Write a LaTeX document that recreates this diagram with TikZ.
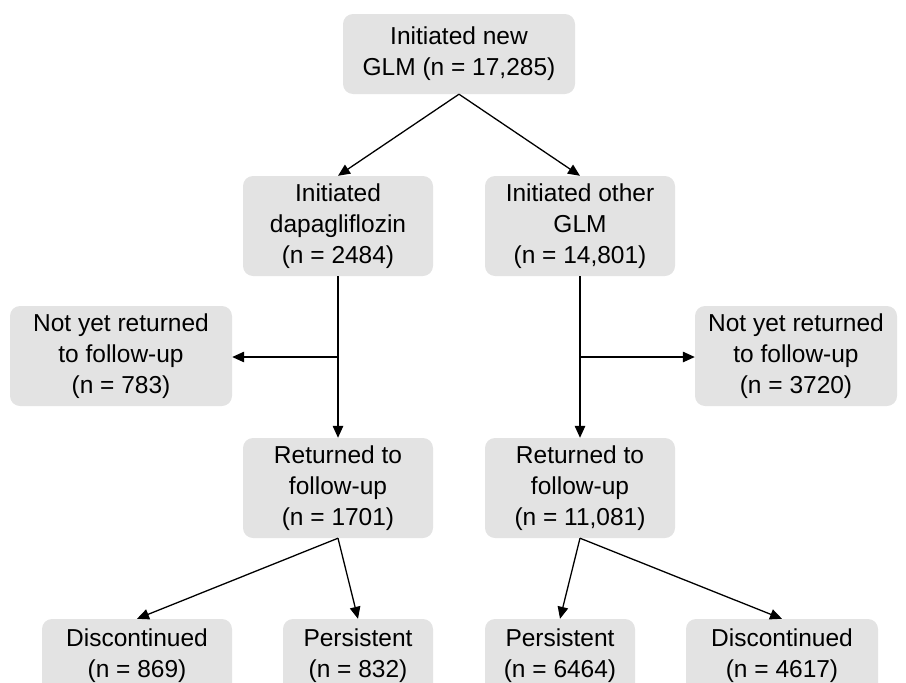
\documentclass[tikz,border=0pt]{standalone}
\usepackage{fontspec}
\setmainfont{Liberation Sans}
\usetikzlibrary{arrows.meta}
\definecolor{boxgray}{HTML}{E3E3E3}
\begin{document}
\begin{tikzpicture}[x=1pt,y=-1pt,
  box/.style={fill=boxgray, draw=none, rounded corners=10pt, inner sep=0pt,
    align=center, minimum height=100pt, font=\fontsize{24.5}{31}\selectfont},
  conn/.style={line width=1.3pt, -{Triangle[length=12pt,width=10.5pt]}}]
\useasboundingbox (0,0) rectangle (906,683);
\node[box, minimum width=232pt, minimum height=80pt] (top) at (459,54) {Initiated new\\GLM (n = 17,285)};
\node[box, minimum width=190pt] (dapa) at (338,226) {Initiated\\dapagliflozin\\(n = 2484)};
\node[box, minimum width=190pt] (other) at (580,226) {Initiated other\\GLM\\(n = 14,801)};
\node[box, minimum width=222pt] (nyrl) at (121,356) {Not yet returned\\to follow-up\\(n = 783)};
\node[box, minimum width=202pt] (nyrr) at (796,356) {Not yet returned\\to follow-up\\(n = 3720)};
\node[box, minimum width=190pt] (retl) at (338,488) {Returned to\\follow-up\\(n = 1701)};
\node[box, minimum width=190pt] (retr) at (580,488) {Returned to\\follow-up\\(n = 11,081)};
\node[box, minimum width=190pt] (discl) at (137,669) {Discontinued\\(n = 869)\\\mbox{}};
\node[box, minimum width=150pt] (persl) at (358,669) {Persistent\\(n = 832)\\\mbox{}};
\node[box, minimum width=150pt] (persr) at (560,669) {Persistent\\(n = 6464)\\\mbox{}};
\node[box, minimum width=192pt] (discr) at (782,669) {Discontinued\\(n = 4617)\\\mbox{}};
\coordinate (splitl) at (338,357);
\coordinate (splitr) at (580,357);
\draw[conn] (top.south) -- (dapa.north);
\draw[conn] (top.south) -- (other.north);
\draw[conn] (dapa.south) -- (retl.north);
\draw[conn] (other.south) -- (retr.north);
\draw[conn] (splitl) -- (splitl -| nyrl.east);
\draw[conn] (splitr) -- (splitr -| nyrr.west);
\draw[conn] (retl.south) -- (discl.north);
\draw[conn] (retl.south) -- (persl.north);
\draw[conn] (retr.south) -- (persr.north);
\draw[conn] (retr.south) -- (discr.north);
\end{tikzpicture}
\end{document}
